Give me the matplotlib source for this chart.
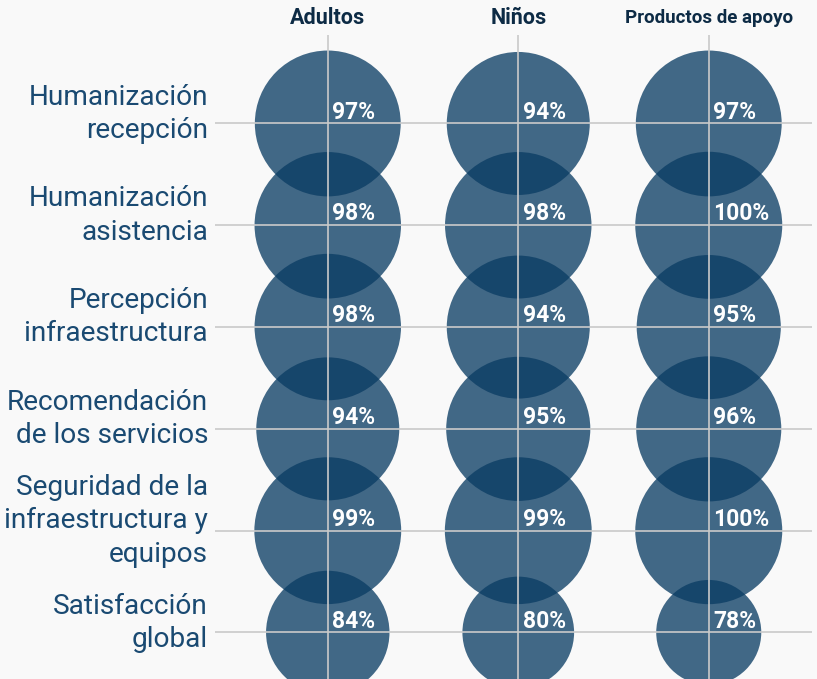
import matplotlib.pyplot as plt
import numpy as np

plt.rcParams['font.family'] = ['Roboto', 'DejaVu Sans']

# Data
categories = ['Humanización\nrecepción', 'Humanización\nasistencia',
              'Percepción\ninfraestructura', 'Recomendación\nde los servicios',
              'Seguridad de la\ninfraestructura y\nequipos', 'Satisfacción\nglobal']
groups = ['Adultos', 'Niños', 'Productos de apoyo']
adultos = [97, 98, 98, 94, 99, 84]
ninos = [94, 98, 94, 95, 99, 80]
productos = [97, 100, 95, 96, 100, 78]

bg = '#f9f9f9'
bubble_color = '#0a3c63'
label_color = '#1a4a72'
header_color = '#0d2b45'


def bubble_size(v):
    # radius in px shrinks faster the further a value is from 100
    r_px = 73.5 - 0.078 * (100 - np.asarray(v, dtype=float)) ** 1.81
    return (2 * r_px * 0.72) ** 2


fig = plt.figure(figsize=(8.17, 6.79), dpi=100, facecolor=bg)
ax = fig.add_axes([215 / 817, 0, (812 - 215) / 817, (679 - 35) / 679])
ax.set_facecolor(bg)

rows = np.arange(len(categories))
for i, vals in enumerate([adultos, ninos, productos]):
    ax.scatter(np.full(len(rows), i), rows, s=bubble_size(vals),
               color=bubble_color, alpha=0.77, linewidths=0, zorder=1)
    for r, v in zip(rows, vals):
        ax.annotate(f'{v}%', (i, r), xytext=(3.2, 3.5), textcoords='offset points',
                    ha='left', va='baseline', color='white', fontsize=16.5,
                    fontweight='bold', zorder=4)

# Row labels, sitting a little above their grid line
for r, cat in zip(rows, categories):
    ax.annotate(cat, (0, r), xycoords=('axes fraction', 'data'),
                xytext=(-5, 7), textcoords='offset points', ha='right',
                va='center', multialignment='right', fontsize=20.2,
                color=label_color, linespacing=1.3, annotation_clip=False)

# Column headers
header_sizes = [15.5, 15.5, 13.5]
for i, (g, fs) in enumerate(zip(groups, header_sizes)):
    ax.text(i, 1 + 17 / 644, g, transform=ax.get_xaxis_transform(), ha='center',
            va='center', fontsize=fs, fontweight='bold', color=header_color,
            clip_on=False)

ax.set_xlim(-0.592, 2.542)
ax.set_ylim(5.457, -0.869)
ax.set_xticks(range(len(groups)))
ax.set_xticklabels([])
ax.set_yticks(rows)
ax.set_yticklabels([])
ax.tick_params(length=0)
ax.set_axisbelow('line')
ax.grid(True, color='#cacaca', linewidth=1.2)
for s in ax.spines.values():
    s.set_visible(False)

fig.savefig('out.png', dpi=100, facecolor=bg)
